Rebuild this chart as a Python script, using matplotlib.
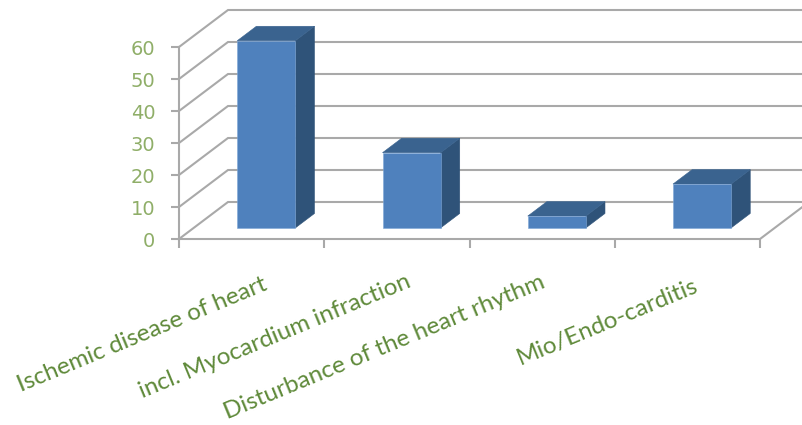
import matplotlib
matplotlib.use("Agg")
import matplotlib.pyplot as plt
from matplotlib.patches import Polygon
from matplotlib.transforms import ScaledTranslation

categories = ["Ischemic disease of heart", "incl. Myocardium infraction",
              "Disturbance of the heart rhythm", "Mio/Endo-carditis"]
values = [58.5, 23.5, 3.7, 13.7]
y_ticks = [0, 10, 20, 30, 40, 50, 60]

W, H = 802, 425
X0, X1, Y0, Y60 = 179, 760, 239, 47
fig = plt.figure(figsize=(W/100, H/100), dpi=100, facecolor="white")
ax = fig.add_axes([X0/W, 1-Y0/H, (X1-X0)/W, (Y0-Y60)/H])
ax.set_xlim(0, len(categories))
ax.set_ylim(0, 60)
ax.patch.set_visible(False)
for s in ax.spines.values():
    s.set_visible(False)

GRID = "#a9a9a9"
LW = 1.5
DX, DY = 49/145.25, 37/3.2           # full floor depth in data units
BAR_W = 0.40
D0, D1 = 0.30, 0.69                  # bar depth span as floor fraction
FRONT, SIDE, TOP = "#4f81bd", "#2f5379", "#3a638f"

def p(x, y, d):
    return (x + DX*d, y + DY*d)

# walls and floor
for v in y_ticks:
    ax.plot(*zip(p(0, v, 0), p(0, v, 1), p(4.2, v, 1)), color=GRID, lw=LW,
            clip_on=False, zorder=1, solid_joinstyle="miter")
ax.plot(*zip(p(0, 0, 0), p(0, 60, 0)), color=GRID, lw=LW, clip_on=False, zorder=1)
ax.plot(*zip(p(0, 0, 0), p(4, 0, 0), p(4, 0, 1)), color=GRID, lw=LW, clip_on=False, zorder=1)

# bars
for i, v in enumerate(values):
    l = i + 0.5 - BAR_W/2
    r = i + 0.5 + BAR_W/2
    ax.add_patch(Polygon([p(r, 0, D0), p(r, 0, D1), p(r, v, D1), p(r, v, D0)],
                         fc=SIDE, ec=SIDE, lw=0.4, clip_on=False, zorder=3))
    ax.add_patch(Polygon([p(l, v, D0), p(r, v, D0), p(r, v, D1), p(l, v, D1)],
                         fc=TOP, ec=TOP, lw=0.4, clip_on=False, zorder=3))
    ax.add_patch(Polygon([p(l, 0, D0), p(r, 0, D0), p(r, v, D0), p(l, v, D0)],
                         fc=FRONT, ec="#7ea6d6", lw=0.4, clip_on=False, zorder=4))

# ticks
ax.set_yticks(y_ticks)
ax.set_yticklabels([str(v) for v in y_ticks], fontsize=14, color="#8fae68",
                   family="DejaVu Sans")
ax.tick_params(axis="y", length=6, width=LW, color=GRID, pad=11)
down = ScaledTranslation(0, -0.025, fig.dpi_scale_trans)
for t in ax.get_yticklabels():
    t.set_verticalalignment("center")
    t.set_transform(t.get_transform() + down)
ax.set_xticks(range(len(categories)+1))
ax.set_xticklabels([""]*(len(categories)+1))
ax.tick_params(axis="x", length=6.5, width=LW, color=GRID)

# rotated category labels: right end of each label in pixels
end_x = [266, 410, 544, 697]
end_y = [283, 281, 281, 285]
for i, c in enumerate(categories):
    off = ScaledTranslation((end_x[i]-X0)/100, (Y0-end_y[i])/100, fig.dpi_scale_trans)
    ax.text(0, 0, c, transform=ax.transData + off,
            rotation=22.5, rotation_mode="anchor", ha="right", va="center",
            fontsize=17.5, color="#5f8a3a", family="Lato", clip_on=False)

fig.savefig("out.png", dpi=100)
